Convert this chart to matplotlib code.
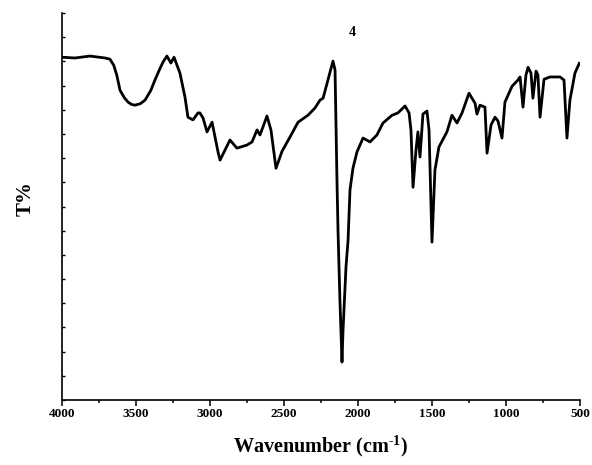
import matplotlib
matplotlib.use("Agg")
import matplotlib.pyplot as plt
from matplotlib.ticker import MultipleLocator

plt.rcParams['font.family'] = ['Liberation Serif', 'DejaVu Serif']
plt.rcParams['font.weight'] = 'bold'
plt.rcParams['mathtext.fontset'] = 'custom'
plt.rcParams['mathtext.rm'] = 'Liberation Serif:bold'

# IR spectrum of compound 4
wavenumber = [4000, 3912, 3811, 3709, 3676, 3650, 3630, 3608, 3580, 3554,
              3530, 3507, 3470, 3439, 3400, 3372, 3340,
              3318, 3291, 3264, 3243, 3203, 3169, 3149, 3115, 3081, 3068,
              3047, 3020, 2986, 2945, 2932, 2865, 2818, 2750, 2716, 2682,
              2662, 2615, 2588, 2554, 2513, 2459, 2405, 2338, 2290, 2257,
              2236, 2203, 2169, 2155, 2142, 2135, 2122, 2108, 2101, 2081,
              2067, 2054, 2034, 2007, 1966, 1919, 1872, 1831, 1770, 1730,
              1682, 1655, 1642, 1628, 1608, 1595, 1581, 1561, 1534, 1520,
              1500, 1480, 1453, 1399, 1365, 1331, 1297, 1250, 1209, 1196,
              1176, 1142, 1128, 1101, 1074, 1054, 1027, 1007, 959, 919,
              905, 885, 865, 851, 831, 818, 797, 784, 770, 743,
              703, 635, 608, 588, 568, 534, 513, 505]
transmittance = [88.6, 88.4, 88.9, 88.4, 88.1, 86.5, 84.0, 80.1, 78.2, 77.0,
                 76.4, 76.2, 76.6, 77.5, 80.0, 82.7, 85.5,
                 87.3, 88.9, 87.1, 88.6, 84.5, 78.3, 73.1, 72.4, 74.2, 74.2,
                 72.9, 69.3, 71.8, 64.0, 62.0, 67.2, 65.1, 65.9, 66.7, 69.8,
                 68.5, 73.4, 69.8, 59.9, 64.3, 68.0, 71.8, 73.6, 75.5, 77.5,
                 78.0, 82.7, 87.6, 85.3, 56.8, 43.9, 25.8, 9.8, 18.1, 34.4,
                 41.3, 54.3, 59.9, 64.1, 67.7, 66.7, 68.5, 71.6, 73.6, 74.2,
                 76.0, 74.2, 69.8, 55.0, 64.6, 69.3, 62.8, 73.9, 74.7, 69.8,
                 40.8, 59.4, 65.4, 69.3, 73.6, 71.6, 74.2, 79.3, 76.7, 73.9,
                 76.2, 75.7, 63.8, 71.1, 73.1, 72.1, 67.7, 77.0, 81.1, 82.7,
                 83.5, 75.7, 84.0, 86.0, 84.5, 78.0, 85.0, 84.0, 73.1, 82.9,
                 83.5, 83.5, 82.7, 67.7, 77.5, 84.5, 86.3, 87.0]

fig = plt.figure(figsize=(5.92, 4.65), dpi=100)
ax = fig.add_axes([0.1047, 0.1398, 0.875, 0.832])

ax.plot(wavenumber, transmittance, color='black', linewidth=2.0)

ax.set_xlim(4000, 500)
ax.set_ylim(0, 100)
ax.xaxis.set_major_locator(MultipleLocator(500))
ax.xaxis.set_minor_locator(MultipleLocator(250))
ax.yaxis.set_major_locator(MultipleLocator(6.25))
ax.set_yticklabels([])

ax.spines['top'].set_visible(False)
ax.spines['right'].set_visible(False)
ax.spines['left'].set_linewidth(1.2)
ax.spines['bottom'].set_linewidth(1.2)

ax.tick_params(axis='x', which='major', direction='out', length=4, width=1.1,
               labelsize=9.5, pad=2)
ax.tick_params(axis='x', which='minor', direction='out', length=2.5, width=1.1)
ax.tick_params(axis='y', which='major', direction='in', length=2.5, width=1.0)
for lab in ax.get_xticklabels():
    lab.set_fontweight('bold')

ax.set_xlabel('Wavenumber (cm$^{\\text{-1}}$)', fontsize=14.5, fontweight='bold', labelpad=9)
ax.set_ylabel('T%', fontsize=15, fontweight='bold')
ax.yaxis.set_label_coords(-0.05, 0.52)
ax.text(0.56, 0.95, '4', transform=ax.transAxes, fontsize=10, fontweight='bold',
        ha='center', va='center')

fig.savefig('out.png', dpi=100)
